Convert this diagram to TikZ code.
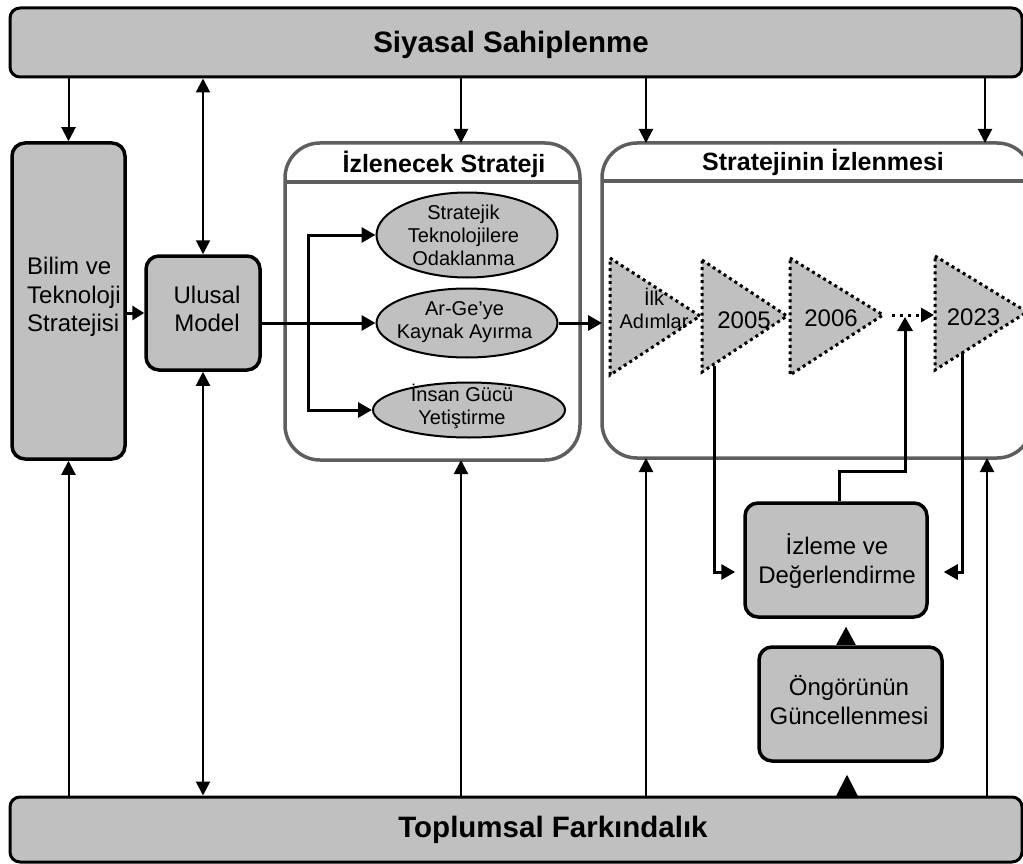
\documentclass[tikz,border=0pt]{standalone}
\usepackage{fontspec}
\setmainfont{Liberation Sans}
\usetikzlibrary{arrows.meta,shapes.geometric,calc}
\definecolor{boxgray}{HTML}{C0C0C0}
\definecolor{framegray}{HTML}{5E5E5E}
\tikzset{
  bar/.style={draw=black, fill=boxgray, line width=3pt, rounded corners=10pt, inner sep=0pt},
  gbox/.style={draw=black, fill=boxgray, line width=3.5pt, rounded corners=13pt, inner sep=0pt},
  panel/.style={draw=framegray, line width=3.5pt, rounded corners=35pt, inner sep=0pt, outer sep=0pt},
  panelrule/.style={draw=framegray, line width=3.5pt},
  ell/.style={ellipse, draw=black, fill=boxgray, line width=2pt, inner sep=0pt},
  tri/.style={draw=black, fill=boxgray, line width=3pt, dash pattern=on 3pt off 3.5pt},
  vlink/.style={line width=2pt, -{Triangle[length=14pt,width=14pt]}},
  vboth/.style={line width=2pt, {Triangle[length=14pt,width=14pt]}-{Triangle[length=14pt,width=14pt]}},
  hlink/.style={line width=3pt, -{Triangle[length=14pt,width=15pt]}},
  dotlink/.style={line width=3pt, dash pattern=on 3pt off 5pt, -{Triangle[length=13pt,width=14pt]}},
  bartext/.style={font=\fontsize{29.5}{34}\selectfont\bfseries, inner sep=0pt, anchor=base},
  titletext/.style={font=\fontsize{25}{29}\selectfont\bfseries, inner sep=0pt, anchor=base},
  boxtext/.style={font=\fontsize{24}{28.5}\selectfont, align=center, inner sep=0pt},
  smalltext/.style={font=\fontsize{20}{23}\selectfont, align=center, inner sep=0pt},
}
\begin{document}
\begin{tikzpicture}[x=1pt,y=-1pt]
\useasboundingbox (0,0) rectangle (1023,864);

% horizontal bars
\node[bar, minimum width=1012pt, minimum height=69pt] (top) at (516,42.5) {};
\node[bartext] (toptext) at (511,53) {Siyasal Sahiplenme};
\node[bar, minimum width=1012pt, minimum height=65pt] (bot) at (516,829.5) {};
\node[bartext] (bottext) at (553,837) {Toplumsal Farkındalık};

% left boxes
\node[gbox, minimum width=113pt, minimum height=316pt] (bilim) at (68.5,301) {};
\node[boxtext, align=left, anchor=west] (bilimtext) at (27,297) {Bilim ve\\Teknoloji\\Stratejisi};
\node[gbox, minimum width=114pt, minimum height=114pt] (ulusal) at (203,313) {};
\node[boxtext] (ulusaltext) at (207,309) {Ulusal\\Model};

% strategy panel
\node[panel, minimum width=295pt, minimum height=317pt] (izl) at (432.5,301.5) {};
\draw[panelrule] (izl.west |- 0,182) -- (izl.east |- 0,182);
\node[titletext] (izltitle) at (444,172) {İzlenecek Strateji};

\node[ell, minimum width=181pt, minimum height=85pt] (strat) at (467,235) {};
\node[smalltext] (strattext) at (463.5,235) {Stratejik\\Teknolojilere\\Odaklanma};
\node[ell, minimum width=181pt, minimum height=69pt] (arge) at (467,323) {};
\node[smalltext] (argetext) at (464.5,322) {Ar-Ge’ye\\Kaynak Ayırma};
\node[ell, minimum width=192pt, minimum height=55pt] (insan) at (469,410) {};
\node[smalltext] (insantext) at (462,406) {İnsan Gücü\\Yetiştirme};

% monitoring panel
\node[panel, minimum width=430pt, minimum height=315pt] (strj) at (817,300.5) {};
\draw[panelrule] (strj.west |- 0,181) -- (strj.east |- 0,181);
\node[titletext] (strjtitle) at (823,171) {Stratejinin İzlenmesi};

% timeline steps
\path[tri] (610,258) -- (700,316) -- (610,375) -- cycle;
\path[tri] (702,260) -- (787,316) -- (702,372) -- cycle;
\path[tri] (790,258) -- (883,315) -- (790,375) -- cycle;
\path[tri] (935,256) -- (1027,312) -- (935,370) -- cycle;
\node[smalltext] (step1) at (654,308) {İlk\\Adımlar};
\node[boxtext, anchor=base] (step2) at (744,328) {2005};
\node[boxtext, anchor=base] (step3) at (831,326) {2006};
\node[boxtext, anchor=base] (step4) at (973.5,325) {2023};
\coordinate (t3tip) at (883,315);
\coordinate (t4in) at (934,315);
\coordinate (dotmid) at (905,317);
\coordinate (t2foot) at (714,366);
\coordinate (t4foot) at (962,353);

% evaluation boxes
\node[gbox, minimum width=182pt, minimum height=114pt] (eval) at (836,560) {};
\node[boxtext] (evaltext) at (837,561) {İzleme ve\\Değerlendirme};
\node[gbox, minimum width=183pt, minimum height=114pt] (ong) at (850.5,704) {};
\node[boxtext] (ongtext) at (849,700) {Öngörünün\\Güncellenmesi};

% links from the top bar
\draw[vlink] (top.south -| bilim.north) -- (bilim.north);
\draw[vboth] (top.south -| ulusal.north) -- (ulusal.north);
\draw[vlink] (top.south -| 461,0) -- (izl.north -| 461,0);
\draw[vlink] (top.south -| 646,0) -- (strj.north -| 646,0);
\draw[vlink] (top.south -| 985,0) -- (strj.north -| 985,0);

% links from the bottom bar
\draw[vlink] (bot.north -| bilim.south) -- (bilim.south);
\draw[vboth] (ulusal.south) -- (bot.north -| ulusal.south);
\draw[vlink] (bot.north -| 461,0) -- (izl.south -| 461,0);
\draw[vlink] (bot.north -| 646,0) -- (strj.south -| 646,0);
\draw[vlink] (bot.north -| 987,0) -- (strj.south -| 987,0);
\draw[line width=2pt, -{Triangle[length=22pt,width=22pt]}, shorten >=12pt] (bot.north -| 847,0) -- (ong.south -| 847,0);

% model flow
\draw[hlink, -{Triangle[length=12pt,width=14pt]}] (bilim.east |- ulusal.west) -- (ulusal.west);
\coordinate (fork) at (308,323);
\draw[hlink] (ulusal.east |- arge.west) -- (arge.west);
\draw[hlink] (fork) |- (strat.west);
\draw[hlink] (fork) |- (insan.west);
\draw[hlink] (arge.east) -- (arge.east -| strj.west);

% monitoring loop
\draw[dotlink, shorten <=9pt] (t3tip) -- (t4in);
\draw[hlink, shorten >=8pt] (t2foot) |- (eval.west |- 0,572);
\draw[hlink, shorten >=15pt] (t4foot) |- (eval.east |- 0,572);
\draw[hlink] (eval.north -| 839,0) -- ++(0,-30) -| (dotmid);
\draw[line width=2pt, -{Triangle[length=18pt,width=19pt]}, shorten >=8pt] (ong.north -| 846,0) -- (eval.south -| 846,0);
\end{tikzpicture}
\end{document}
